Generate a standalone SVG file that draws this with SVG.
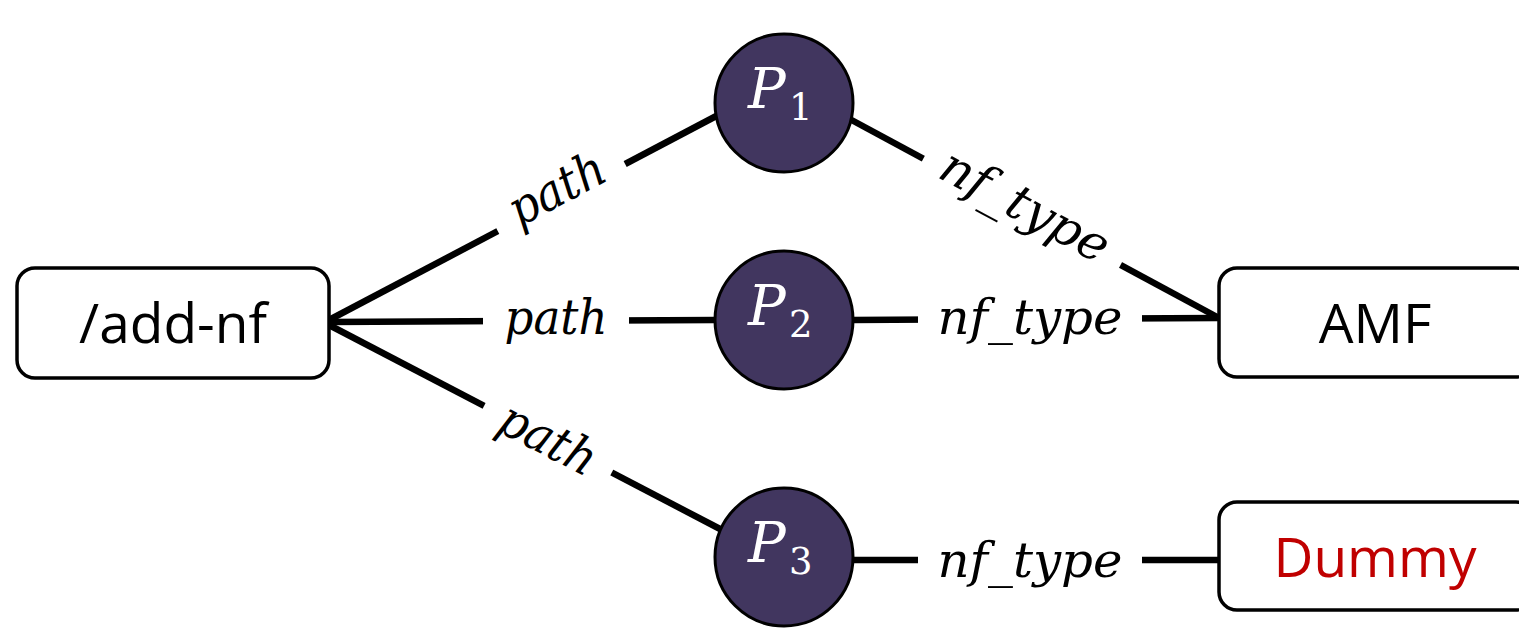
<svg xmlns="http://www.w3.org/2000/svg" width="1519" height="633" viewBox="0 0 1519 633">
<style>
.box{fill:#fff;stroke:#000;stroke-width:3.5}
.node{fill:#41365f;stroke:#000;stroke-width:3}
.edge{stroke:#000;stroke-width:6.5;fill:none}
.lbl{font-family:"DejaVu Serif","Liberation Serif",serif;font-style:italic;font-size:49px;fill:#000;text-anchor:middle}
.bg{fill:#fff}
.nt{font-family:"Open Sans","Liberation Sans",sans-serif;font-size:55px;text-anchor:middle;fill:#000}
.pt{font-family:"DejaVu Serif","Liberation Serif",serif;font-style:italic;font-size:56px;fill:#fff}
.sub{font-family:"DejaVu Serif","Liberation Serif",serif;font-size:37px;fill:#fff;font-style:normal}
</style>
<g id="connectors">
<line class="edge" x1="329" y1="320" x2="722" y2="113"/>
<line class="edge" x1="329" y1="322" x2="716" y2="320"/>
<line class="edge" x1="329" y1="325" x2="722" y2="530"/>
<line class="edge" x1="846" y1="117" x2="1219" y2="318"/>
<line class="edge" x1="852" y1="320" x2="1219" y2="318"/>
<line class="edge" x1="852" y1="560" x2="1219" y2="560"/>
<g transform="translate(558,191) rotate(-27.8)"><rect class="bg" x="-72" y="-30" width="144" height="60"/><text class="lbl" x="0" y="14" textLength="103" lengthAdjust="spacingAndGlyphs">path</text></g>
<g transform="translate(556,320)"><rect class="bg" x="-73" y="-30" width="146" height="60"/><text class="lbl" x="0" y="14" textLength="103" lengthAdjust="spacingAndGlyphs">path</text></g>
<g transform="translate(547,441) rotate(27.5)"><rect class="bg" x="-72" y="-30" width="144" height="60"/><text class="lbl" x="0" y="14" textLength="103" lengthAdjust="spacingAndGlyphs">path</text></g>
<g transform="translate(1024,208) rotate(28.3)"><rect class="bg" x="-112" y="-30" width="224" height="60"/><text class="lbl" x="0" y="14" textLength="185" lengthAdjust="spacingAndGlyphs">nf_type</text></g>
<g transform="translate(1030,320)"><rect class="bg" x="-112" y="-30" width="224" height="60"/><text class="lbl" x="0" y="14" textLength="185" lengthAdjust="spacingAndGlyphs">nf_type</text></g>
<g transform="translate(1030,563)"><rect class="bg" x="-112" y="-30" width="224" height="60"/><text class="lbl" x="0" y="14" textLength="185" lengthAdjust="spacingAndGlyphs">nf_type</text></g>
</g>
<g id="add-nf"><rect class="box" x="17" y="268" width="312" height="110" rx="18"/><text class="nt" x="173" y="343">/add-nf</text></g>
<g id="amf"><rect class="box" x="1219" y="268" width="315" height="109" rx="18"/><text class="nt" x="1375" y="343">AMF</text></g>
<g id="dummy"><rect class="box" x="1219" y="502" width="315" height="108" rx="18"/><text class="nt" x="1375" y="577" style="fill:#c00000">Dummy</text></g>
<g id="p1"><circle class="node" cx="784" cy="103" r="69"/><text class="pt" x="748" y="108">P</text><text class="sub" x="789" y="120">1</text></g>
<g id="p2"><circle class="node" cx="784" cy="320" r="69"/><text class="pt" x="748" y="325">P</text><text class="sub" x="789" y="337">2</text></g>
<g id="p3"><circle class="node" cx="784" cy="557" r="69"/><text class="pt" x="748" y="562">P</text><text class="sub" x="789" y="574">3</text></g>
</svg>
